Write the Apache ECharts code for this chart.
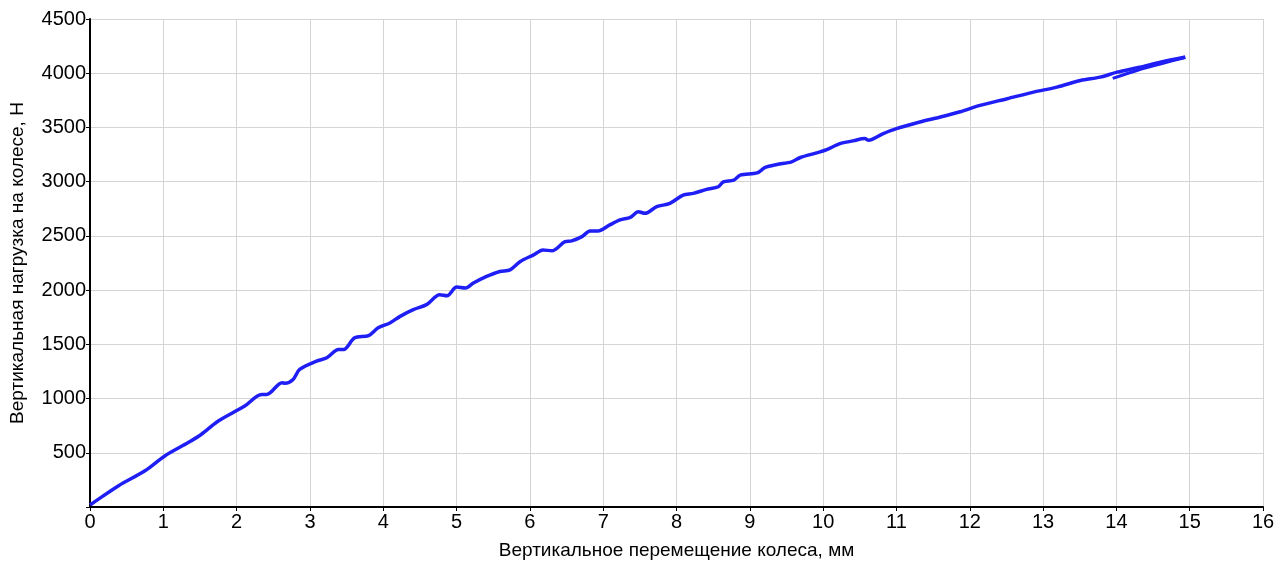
<!DOCTYPE html>
<html>
<head>
<meta charset="utf-8">
<script src="https://cdn.jsdelivr.net/npm/echarts@6/dist/echarts.min.js"></script>
<style>
  html, body { margin: 0; padding: 0; background: #fff; }
  #main { width: 1287px; height: 562px; }
</style>
</head>
<body>
<div id="main"></div>
<script>
// нагружение: перемещение, мм / нагрузка, Н
const dispMm = [0.0, 0.02, 0.39, 0.75, 1.02, 1.34, 1.52, 1.75, 2.11, 2.34, 2.41, 2.62, 2.66, 2.77,
  2.86, 3.09, 3.23, 3.39, 3.46, 3.61, 3.80, 3.93, 4.09, 4.23, 4.41, 4.59, 4.77, 4.87, 5.0, 5.12,
  5.23, 5.41, 5.59, 5.73, 5.87, 6.05, 6.18, 6.30, 6.48, 6.57, 6.71, 6.82, 6.93, 7.09, 7.23, 7.37,
  7.48, 7.57, 7.73, 7.91, 8.09, 8.23, 8.41, 8.57, 8.64, 8.78, 8.87, 9.10, 9.21, 9.37, 9.57, 9.69,
  9.91, 10.05, 10.23, 10.41, 10.57, 10.62, 10.82, 11.0, 11.32, 11.60, 11.87, 12.14, 12.51, 12.87,
  13.19, 13.51, 13.78, 14.01, 14.32, 14.60, 14.94];
const loadN = [20, 28, 196, 334, 471, 594, 671, 793, 931, 1038, 1038, 1146, 1140, 1176,
  1268, 1345, 1376, 1452, 1452, 1560, 1581, 1652, 1697, 1758, 1820, 1866, 1957, 1948, 2028, 2019,
  2065, 2126, 2172, 2187, 2264, 2325, 2371, 2362, 2447, 2454, 2493, 2545, 2545, 2601, 2647, 2671,
  2723, 2708, 2769, 2800, 2876, 2892, 2929, 2953, 2999, 3014, 3060, 3081, 3131, 3158, 3183, 3223,
  3265, 3296, 3351, 3376, 3397, 3382, 3443, 3489, 3550, 3596, 3645, 3703, 3765, 3826,
  3872, 3933, 3964, 4010, 4056, 4102, 4150];
// обратный ход (короткий участок)
const backMm = [14.94, 14.6, 14.3, 13.95];
const backN = [4145, 4085, 4030, 3952];

const xTicks = { min: 0, max: 16, step: 1 };
const yTicks = { min: 0, max: 4500, step: 500 };

const chart = echarts.init(document.getElementById('main'));
const zip = (a, b) => a.map((v, i) => [v, b[i]]);
const font = 'Liberation Sans, Arial, sans-serif';

chart.setOption({
  animation: false,
  grid: { left: 90, right: 24, top: 19, bottom: 55, containLabel: false, outerBoundsMode: 'none' },
  xAxis: {
    type: 'value', min: xTicks.min, max: xTicks.max, interval: xTicks.step,
    name: 'Вертикальное перемещение колеса, мм',
    nameLocation: 'middle', nameGap: 34,
    nameTextStyle: { color: '#000', fontSize: 19, fontFamily: font },
    axisLine: { lineStyle: { color: '#000', width: 2 } },
    axisTick: { show: true, length: 4, lineStyle: { color: '#000' } },
    axisLabel: { color: '#000', fontSize: 20, fontFamily: font, margin: 5 },
    splitLine: { lineStyle: { color: '#d4d4d4' } }
  },
  yAxis: {
    type: 'value', min: yTicks.min, max: yTicks.max, interval: yTicks.step,
    name: 'Вертикальная нагрузка на колесе, Н',
    nameLocation: 'middle', nameGap: 63, nameRotate: 90,
    nameTextStyle: { color: '#000', fontSize: 19, fontFamily: font },
    axisLine: { show: true, lineStyle: { color: '#000', width: 2 } },
    axisTick: { show: true, length: 4, lineStyle: { color: '#000' } },
    axisLabel: { color: '#000', fontSize: 20, fontFamily: font, margin: 4,
      formatter: v => (v === 0 ? '' : v) },
    splitLine: { lineStyle: { color: '#d4d4d4' } }
  },
  series: [
    {
      type: 'line', data: zip(dispMm, loadN), showSymbol: false, smooth: 0.3,
      lineStyle: { color: '#1f1ff5', width: 3.5 }
    },
    {
      type: 'line', data: zip(backMm, backN), showSymbol: false, smooth: 0.3,
      lineStyle: { color: '#1f1ff5', width: 3 }
    }
  ]
});
</script>
</body>
</html>
